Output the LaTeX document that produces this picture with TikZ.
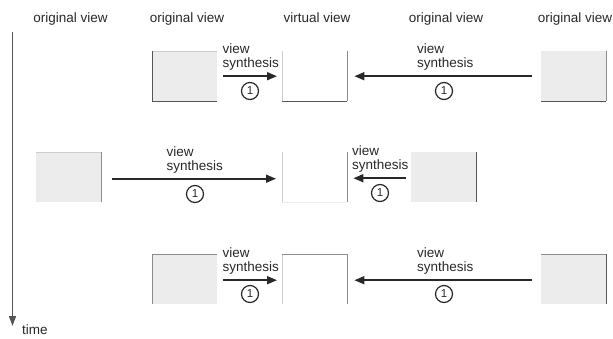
\documentclass[tikz,border=0pt]{standalone}
\usepackage{fontspec}
\setmainfont{Liberation Sans}
\usetikzlibrary{arrows.meta}

\definecolor{framefill}{RGB}{235,236,235}
\definecolor{ink}{RGB}{40,40,40}
\definecolor{edgedark}{RGB}{85,85,85}
\definecolor{edgemid}{RGB}{140,140,140}
\definecolor{edgelight}{RGB}{205,205,205}

\begin{document}
\begin{tikzpicture}[x=1pt,y=-1pt,
  every node/.style={font=\fontsize{13.5}{14}\selectfont, text=ink},
  viewbox/.style={draw=none, minimum width=65pt, minimum height=50pt, inner sep=0pt, anchor=north west},
  origbox/.style={viewbox, fill=framefill},
  virtbox/.style={viewbox, fill=white},
  synth/.style={draw=ink, line width=1.6pt, -{Triangle[length=10pt,width=8pt]}},
  synthtext/.style={align=left, inner sep=0pt, anchor=south west},
  stepnum/.style={circle, draw=ink, line width=1.2pt, minimum size=17pt, inner sep=0pt, font=\fontsize{11.5}{11.5}\selectfont},
  viewtitle/.style={anchor=base, inner sep=0pt},
  edge1/.style={draw=edgedark, line width=1pt},
  edge2/.style={draw=edgemid, line width=1pt},
  edge3/.style={draw=edgelight, line width=1pt},
  timeaxis/.style={draw=edgedark, line width=1.5pt, -{Triangle[length=10pt,width=7pt]}}]

\useasboundingbox (0,0) rectangle (613,338);

% column titles
\node[viewtitle] (h1) at (70.5,22) {original view};
\node[viewtitle] (h2) at (187,22) {original view};
\node[viewtitle] (h3) at (317,22) {virtual view};
\node[viewtitle] (h4) at (446,22) {original view};
\node[viewtitle] (h5) at (575,22) {original view};

% time axis
\coordinate (ta) at (12.5,32);
\coordinate (tb) at (12.5,326);
\draw[timeaxis] (ta) -- (tb);
\node[anchor=base west, inner sep=0pt] (tlabel) at (22,334) {time};

% ---- first instant ----
\node[origbox] (A1) at (152,51) {};
\node[virtbox] (V1) at (282,51) {};
\node[origbox] (B1) at (541,51) {};
\draw[edge3] (A1.north west) -- (A1.north east);
\draw[edge1] (A1.north west) -- (A1.south west) -- (A1.south east);
\draw[edge3] (V1.north west) -- (V1.south west);
\draw[edge2] (V1.north east) -- (V1.south east);
\draw[edge1] (V1.south west) -- (V1.south east);
\draw[edge2] (B1.north east) -- (B1.south east);
\draw[edge1] (B1.south west) -- (B1.south east);

\draw[synth] ([xshift=6pt]A1.east) -- ([xshift=-5pt]V1.west);
\draw[synth] ([xshift=-9pt]B1.west) -- ([xshift=7pt]V1.east);
\node[synthtext] (s1) at (222.5,70) {view\\synthesis};
\node[synthtext] (s2) at (417,70) {view\\synthesis};
\node[stepnum] (n1) at (250,91) {1};
\node[stepnum] (n2) at (444,91) {1};

% ---- second instant ----
\node[origbox] (A2) at (36,152) {};
\node[virtbox] (V2) at (282,152) {};
\node[origbox] (B2) at (411,152) {};
\draw[edge3] (A2.north west) -- (A2.north east);
\draw[edge2] (A2.north east) -- (A2.south east);
\draw[edge3] (V2.north west) -- (V2.south west);
\draw[edge2] (V2.north east) -- (V2.south east);
\draw[draw=framefill, line width=1pt] (V2.south west) -- (V2.south east);
\draw[edge1] (B2.north east) -- (B2.south east);

\draw[synth] ([xshift=11pt,yshift=-1.5pt]A2.east) -- ([xshift=-6pt,yshift=-1.5pt]V2.west);
\draw[synth] ([xshift=-5pt,yshift=-1pt]B2.west) -- ([xshift=6pt,yshift=-1pt]V2.east);
\node[synthtext] (s3) at (166.5,173) {view\\synthesis};
\node[synthtext] (s4) at (352,172) {view\\synthesis};
\node[stepnum] (n3) at (195,194) {1};
\node[stepnum] (n4) at (380,193) {1};

% ---- third instant ----
\node[origbox] (A3) at (152,254) {};
\node[virtbox] (V3) at (282,254) {};
\node[origbox] (B3) at (541,254) {};
\draw[edge2] (A3.south west) -- (A3.north west) -- (A3.north east);
\draw[edge3] (V3.north west) -- (V3.south west);
\draw[edge2] (V3.north west) -- (V3.north east) -- (V3.south east);
\draw[edge2] (B3.north west) -- (B3.north east);
\draw[edge1] (B3.north east) -- (B3.south east);

\draw[synth] ([xshift=6pt,yshift=-1pt]A3.east) -- ([xshift=-5pt,yshift=-1pt]V3.west);
\draw[synth] ([xshift=-9pt,yshift=-1pt]B3.west) -- ([xshift=7pt,yshift=-1pt]V3.east);
\node[synthtext] (s5) at (222.5,274) {view\\synthesis};
\node[synthtext] (s6) at (417,274) {view\\synthesis};
\node[stepnum] (n5) at (250,294) {1};
\node[stepnum] (n6) at (444,294) {1};

\end{tikzpicture}
\end{document}
